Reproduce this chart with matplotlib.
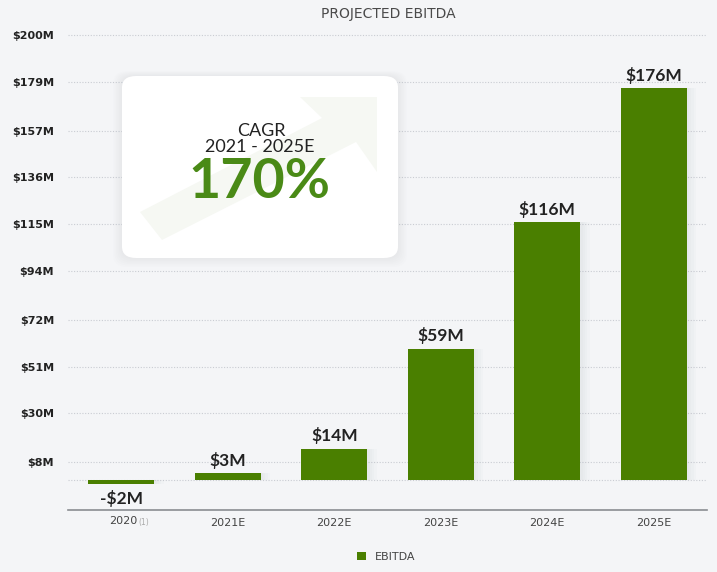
import matplotlib
matplotlib.use("Agg")
import matplotlib.pyplot as plt
from matplotlib.patches import FancyBboxPatch, Polygon
import matplotlib.transforms as mtransforms

# data
years = ['2020', '2021E', '2022E', '2023E', '2024E', '2025E']
ebitda = [-2, 3, 14, 59, 116, 176]
bar_labels = ['-$2M', '$3M', '$14M', '$59M', '$116M', '$176M']
ytick_vals = [8, 30, 51, 72, 94, 115, 136, 157, 179, 200]
ytick_labels = ['$8M', '$30M', '$51M', '$72M', '$94M', '$115M', '$136M', '$157M', '$179M', '$200M']

green = '#4a7f00'
bg = '#f4f5f7'
plt.rcParams['font.family'] = ['Lato', 'DejaVu Sans']
small = 'DejaVu Sans'

fig = plt.figure(figsize=(7.17, 5.72), dpi=100, facecolor=bg)
W, H = 717, 572
ax = fig.add_axes([68 / W, 1 - 510 / H, (707 - 68) / W, (510 - 34) / H])
ax.set_facecolor(bg)

x = list(range(len(years)))

# soft shadow behind bars
for xi, v in zip(x, ebitda):
    for k in range(1, 5):
        ax.bar(xi + 0.012 * k, v, width=0.62 + 0.02 * k,
               color='#9aa3b0', alpha=0.035, zorder=2, linewidth=0)

ax.bar(x, ebitda, width=0.62, color=green, zorder=3, label='EBITDA')

for xi, v, lab in zip(x, ebitda, bar_labels):
    if v >= 0:
        ax.text(xi, v + 2, lab, ha='center', va='bottom', fontsize=12.5,
                fontweight='bold', color='#222222', zorder=5)
    else:
        ax.text(xi, v - 2.5, lab, ha='center', va='top', fontsize=12.5,
                fontweight='bold', color='#222222', zorder=5)

ax.set_xlim(-0.5, 5.5)
ax.set_ylim(-13.5, 200.5)
ax.set_yticks(ytick_vals)
ax.set_yticklabels(ytick_labels, fontsize=8, fontweight='bold',
                   color='#222222', family=small)
ax.set_xticks(x)
ax.set_xticklabels([''] + years[1:], fontsize=8, color='#444444', family=small)
ax.tick_params(axis='both', length=0)
ax.tick_params(axis='y', pad=10)
ax.tick_params(axis='x', pad=6)

# first tick label with footnote marker
trans = mtransforms.blended_transform_factory(ax.transData, ax.transAxes)
ax.text(0.15, -0.0128, '2020', transform=trans, ha='right', va='top',
        fontsize=8, color='#444444', family=small)
ax.text(0.16, -0.0165, '(1)', transform=trans, ha='left', va='top',
        fontsize=5.5, color='#aaaaaa', family=small)

for v in ytick_vals + [0]:
    ax.axhline(v, color='#c9ccd2', lw=0.8, ls=(0, (1, 1.5)), zorder=1)

for s in ['top', 'right', 'left']:
    ax.spines[s].set_visible(False)
ax.spines['bottom'].set_color('#8a8d92')
ax.spines['bottom'].set_linewidth(1.2)

fig.text(388 / W, 1 - 14 / H, 'PROJECTED EBITDA', ha='center', va='center',
         fontsize=10, color='#4a4a4a', family=small)

# CAGR box
bx0, by0, bx1, by1 = 122, 76, 398, 258
for k in range(6, 0, -1):
    sh = FancyBboxPatch((bx0 / W - k * 0.002, 1 - (by1 + k * 1.5) / H),
                        (bx1 - bx0) / W + k * 0.004, (by1 - by0) / H + k * 0.004,
                        boxstyle='round,pad=0,rounding_size=0.02',
                        transform=fig.transFigure, facecolor='#b8bec8',
                        alpha=0.03, edgecolor='none', zorder=6)
    fig.patches.append(sh)
box = FancyBboxPatch((bx0 / W, 1 - by1 / H), (bx1 - bx0) / W, (by1 - by0) / H,
                     boxstyle='round,pad=0,rounding_size=0.02',
                     transform=fig.transFigure, facecolor='white',
                     edgecolor='none', zorder=7)
fig.patches.append(box)

# faint arrow inside the box (pixel outline)
arrow_px = [(377, 97), (300, 97), (322, 118), (140, 212), (162, 240),
            (356, 142), (377, 172)]
arrow = Polygon([(px / W, 1 - py / H) for px, py in arrow_px], closed=True,
                transform=fig.transFigure, facecolor='#f6f8f3',
                edgecolor='none', zorder=8)
fig.patches.append(arrow)

fig.text(261 / W, 1 - 131 / H, 'CAGR', ha='center', va='center',
         fontsize=13, color='#222222', zorder=9)
fig.text(260 / W, 1 - 147 / H, '2021 - 2025E', ha='center', va='center',
         fontsize=13, color='#222222', zorder=9)
fig.text(259 / W, 1 - 182 / H, '170%', ha='center', va='center',
         fontsize=40, fontweight='bold', color='#4a8a16', zorder=9)

# legend
fig.legend(loc='center', bbox_to_anchor=(386 / W, 1 - 557 / H), frameon=False,
           prop={'family': small, 'size': 8}, handlelength=0.8,
           handleheight=0.8, handletextpad=0.8, labelcolor='#444444')

fig.savefig('out.png', dpi=100, facecolor=bg)
